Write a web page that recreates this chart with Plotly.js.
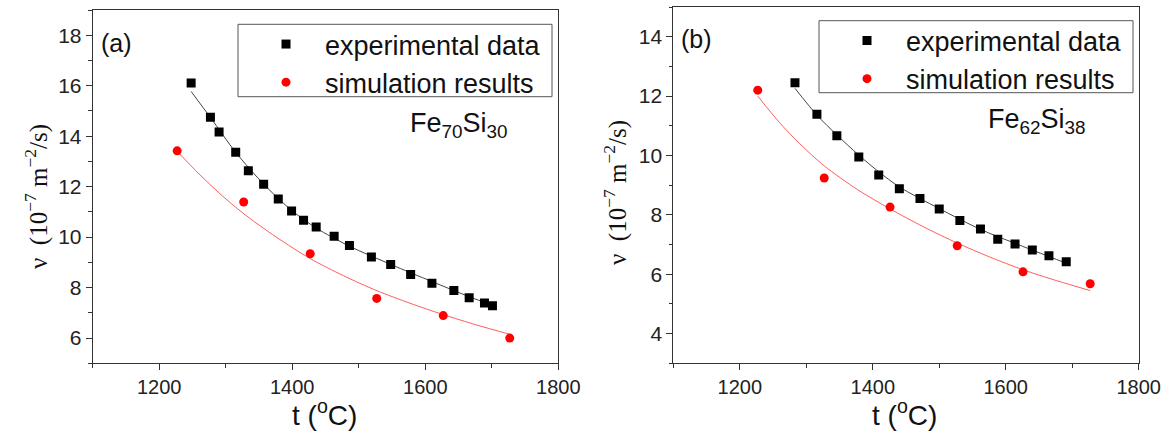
<!DOCTYPE html>
<html>
<head>
<meta charset="utf-8">
<script src="https://cdn.plot.ly/plotly-3.0.1.min.js"></script>
<style>html,body{margin:0;padding:0;background:#fff;}#chart{width:1171px;height:432px;}</style>
</head>
<body>
<div id="chart"></div>
<script>
// ---------- Panel (a): Fe70Si30 ----------
const tExpA = [1248,1277,1290,1315,1334,1357,1379,1399,1417,1436,1463,1486,1519,1548,1578,1610,1643,1666,1689,1701];
const vExpA = [16.11,14.75,14.17,13.36,12.63,12.10,11.51,11.04,10.67,10.40,10.03,9.67,9.21,8.92,8.52,8.17,7.88,7.60,7.39,7.28];
const tSimA = [1227,1327,1427,1527,1627,1727];
const vSimA = [13.42,11.39,9.34,7.57,6.89,6.00];
const tFitExpA = [1248,1277,1315,1357,1399,1436,1486,1548,1610,1666,1701];
const vFitExpA = [15.77,14.74,13.36,12.10,11.06,10.36,9.64,8.92,8.24,7.64,7.30];
const tFitSimA = [1227,1260,1293,1326,1376,1427,1477,1527,1577,1627,1677,1727];
const vFitSimA = [13.40,12.50,11.68,10.95,10.00,9.15,8.47,7.88,7.38,6.93,6.52,6.15];

// ---------- Panel (b): Fe62Si38 ----------
const tExpB = [1283,1316,1346,1379,1409,1440,1471,1500,1531,1562,1588,1614,1640,1665,1691];
const vExpB = [12.45,11.39,10.66,9.95,9.34,8.88,8.55,8.20,7.81,7.52,7.18,7.02,6.82,6.62,6.42];
const tSimB = [1227,1327,1426,1527,1626,1727];
const vSimB = [12.20,9.24,8.26,6.96,6.08,5.68];
const tFitExpB = [1283,1316,1346,1379,1409,1440,1500,1562,1614,1690];
const vFitExpB = [12.26,11.36,10.69,10.01,9.45,8.94,8.21,7.51,7.04,6.38];
const tFitSimB = [1227,1260,1290,1327,1377,1426,1476,1527,1576,1626,1677,1727];
const vFitSimB = [12.00,11.10,10.40,9.65,8.85,8.20,7.60,7.05,6.58,6.15,5.78,5.45];

// ---------- Labels ----------
const seriesNames = ["experimental data", "simulation results"];
const panelLabels = ["(a)", "(b)"];
const alloyLabels = ["Fe<sub>70</sub>Si<sub>30</sub>", "Fe<sub>62</sub>Si<sub>38</sub>"];
const xTitle = "t (<sup>o</sup>C)";
const yTitle = "ν\u00a0\u00a0(10<sup>−7</sup> m<sup>−2</sup>/s)";

const W = 1171, H = 432;
const px = v => v / W;
const py = v => 1 - v / H;

const SANS = "Liberation Sans, Arial, sans-serif";
const SERIF = "Liberation Serif, Times New Roman, serif";

function fitTrace(x, y, color, xa, ya) {
  return {x, y, xaxis: xa, yaxis: ya, mode: "lines", type: "scatter",
    line: {color, width: 1, shape: "spline", smoothing: 0.8}, showlegend: false, hoverinfo: "skip"};
}
function ptTrace(x, y, name, sym, color, xa, ya, leg) {
  return {x, y, xaxis: xa, yaxis: ya, mode: "markers", type: "scatter", name, legend: leg,
    marker: {symbol: sym, size: 9, color, line: {width: 0}}};
}

const data = [
  fitTrace(tFitExpA, vFitExpA, "#444444", "x", "y"),
  fitTrace(tFitSimA, vFitSimA, "#ff5c5c", "x", "y"),
  ptTrace(tExpA, vExpA, seriesNames[0], "square", "#000000", "x", "y", "legend"),
  ptTrace(tSimA, vSimA, seriesNames[1], "circle", "#ff0000", "x", "y", "legend"),
  fitTrace(tFitExpB, vFitExpB, "#444444", "x2", "y2"),
  fitTrace(tFitSimB, vFitSimB, "#ff5c5c", "x2", "y2"),
  ptTrace(tExpB, vExpB, seriesNames[0], "square", "#000000", "x2", "y2", "legend2"),
  ptTrace(tSimB, vSimB, seriesNames[1], "circle", "#ff0000", "x2", "y2", "legend2")
];

function xAxis(domain, anchor) {
  return {domain, anchor, range: [1100, 1800], tick0: 1200, dtick: 200,
    ticks: "outside", ticklen: 6, tickwidth: 1, tickcolor: "#333",
    showline: true, linecolor: "#333", linewidth: 1, mirror: true,
    showgrid: false, zeroline: false, automargin: false, fixedrange: true,
    tickfont: {family: SANS, size: 20, color: "#222"},
    minor: {tick0: 1100, dtick: 100, ticks: "outside", ticklen: 3.5, tickwidth: 1, tickcolor: "#333", showgrid: false}};
}
function yAxis(domain, anchor, range) {
  return {domain, anchor, range, tick0: 0, dtick: 2,
    ticks: "outside", ticklen: 6, tickwidth: 1, tickcolor: "#333",
    showline: true, linecolor: "#333", linewidth: 1, mirror: true,
    showgrid: false, zeroline: false, automargin: false, fixedrange: true,
    tickfont: {family: SANS, size: 21, color: "#222"},
    minor: {tick0: 1, dtick: 1, ticks: "outside", ticklen: 3.5, tickwidth: 1, tickcolor: "#333", showgrid: false}};
}

function legendCfg(xp, yp) {
  return {x: px(xp), y: py(yp), xanchor: "left", yanchor: "top", xref: "paper", yref: "paper",
    bgcolor: "rgba(0,0,0,0)", borderwidth: 0, itemwidth: 68, tracegroupgap: 0,
    font: {family: SANS, size: 27, color: "#111"}};
}

function ann(text, x, y, size, extra) {
  return Object.assign({text, x: px(x), y: py(y), xref: "paper", yref: "paper",
    xanchor: "center", yanchor: "middle", showarrow: false,
    font: {family: SANS, size, color: "#111"}}, extra || {});
}

const layout = {
  width: W, height: H,
  margin: {l: 0, r: 0, t: 0, b: 0},
  paper_bgcolor: "#fff", plot_bgcolor: "#fff",
  showlegend: true,
  xaxis: xAxis([px(92.7), px(558.3)], "y"),
  yaxis: yAxis([1 - 363.3 / H, 1 - 10 / H], "x", [5, 19]),
  xaxis2: xAxis([px(673.3), px(1138.7)], "y2"),
  yaxis2: yAxis([1 - 363.3 / H, 1 - 7 / H], "x2", [3, 15]),
  legend: legendCfg(247, 20),
  legend2: legendCfg(828, 16.5),
  shapes: [
    {type: "rect", xref: "paper", yref: "paper", x0: px(238), x1: px(552), y0: py(96.7), y1: py(24.3),
      line: {color: "#555", width: 1}, fillcolor: "rgba(0,0,0,0)"},
    {type: "rect", xref: "paper", yref: "paper", x0: px(819), x1: px(1133), y0: py(92.7), y1: py(20.7),
      line: {color: "#555", width: 1}, fillcolor: "rgba(0,0,0,0)"}
  ],
  annotations: [
    ann(panelLabels[0], 116, 43, 25),
    ann(panelLabels[1], 696, 39, 25),
    ann(alloyLabels[0], 459, 125, 27),
    ann(alloyLabels[1], 1036.5, 121, 27),
    ann(xTitle, 324, 413, 28),
    ann(xTitle, 904, 413, 28),
    ann(yTitle, 36, 197, 25, {textangle: -90, font: {family: SERIF, size: 25, color: "#111"}}),
    ann(yTitle, 615, 192, 25, {textangle: -90, font: {family: SERIF, size: 25, color: "#111"}})
  ]
};

Plotly.newPlot("chart", data, layout, {displayModeBar: false, staticPlot: true});
</script>
</body>
</html>
